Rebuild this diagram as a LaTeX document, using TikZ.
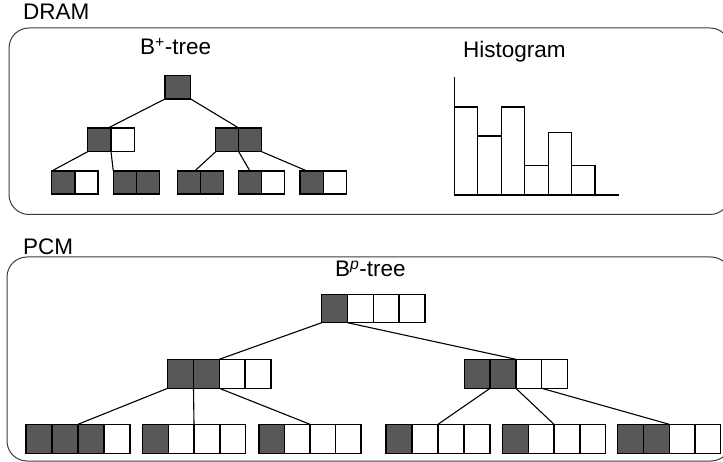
\documentclass[tikz,border=0pt]{standalone}
\usepackage{fontspec}
\setmainfont{Liberation Sans}
\usetikzlibrary{calc}

\definecolor{cellfill}{RGB}{88,88,88}
\definecolor{framegray}{RGB}{60,60,60}

% a row of adjacent cells: name, left x, top y, cell width, cell height, fills
\newcommand\cellrow[6]{%
  \foreach \f [count=\i] in {#6} {
    \node[cellbox, minimum width=#4, minimum height=#5, fill=\f, anchor=north west]
      (#1-\i) at ({#2+(\i-1)*#4},#3) {};
  }%
}

\begin{document}
\begin{tikzpicture}[x=1pt,y=-1pt,
  cellbox/.style={draw=black, line width=1.3pt, inner sep=0pt, outer sep=0pt, rectangle},
  link/.style={draw=black, line width=1.1pt},
  frame/.style={draw=framegray, line width=1pt, rounded corners=20pt},
  lbl/.style={inner sep=0pt, anchor=base west, font=\fontsize{22.5}{26}\selectfont},
  bar/.style={draw=black, line width=1.1pt}]
\useasboundingbox (0,0) rectangle (723,462);

% ---------------- DRAM ----------------
\node[lbl] (dramlbl) at (23,20) {DRAM};
\draw[frame] (9,28) rectangle (730,214.5);
\node[lbl] (bplus) at (140,55) {B\textsuperscript{+}-tree};
\node[lbl] (histlbl) at (463,58) {Histogram};

% B+-tree
\cellrow{dr}{165}{75.7}{25.7}{23.3}{cellfill}
\cellrow{dl}{87.7}{128}{23.3}{23.7}{cellfill,white}
\cellrow{dm}{215.7}{128}{23}{23.7}{cellfill,cellfill}
\cellrow{lf1}{51.7}{171}{23.2}{23}{cellfill,white}
\cellrow{lf2}{113.3}{171}{23.2}{23}{cellfill,cellfill}
\cellrow{lf3}{177.3}{171}{23.2}{23}{cellfill,cellfill}
\cellrow{lf4}{238.3}{171}{23.2}{23}{cellfill,white}
\cellrow{lf5}{300}{171}{23.2}{23}{cellfill,white}

\draw[link] (dr-1.south west) -- ($(dl-1.north)!0.75!(dl-1.north east)$);
\draw[link] (dr-1.south east) -- (dm-1.north east);
\draw[link] (dl-1.south west) -- (lf1-1.north west);
\draw[link] (dl-1.south east) -- (lf2-1.north west);
\draw[link] (dm-1.south west) -- ($(lf3-1.north)!0.5!(lf3-1.north east)$);
\draw[link] (dm-1.south east) -- (lf4-1.north);
\draw[link] (dm-2.south east) -- ($(lf5-1.north west)!0.3!(lf5-1.north east)$);

% histogram bars and axes
\foreach \h [count=\i] in {107,136,107,165.7,132.7,165.7} {
  \draw[bar] ({454.3+(\i-1)*23.45},195) rectangle ({454.3+\i*23.45},\h);
}
\draw[bar] (454.3,77) -- (454.3,195) -- (619.3,195);

% ---------------- PCM ----------------
\node[lbl] (pcmlbl) at (23,255) {PCM};
\draw[frame] (7,257) rectangle (731,461);
\node[lbl] (bp) at (335,277) {B\textsuperscript{\textit{p}}-tree};

\cellrow{pr}{321.7}{294.3}{25.8}{28.4}{cellfill,white,white,white}
\cellrow{pa}{167.7}{359.3}{25.8}{29}{cellfill,cellfill,white,white}
\cellrow{pb}{464.3}{359.3}{25.8}{29}{cellfill,cellfill,white,white}
\cellrow{p1}{26}{424.3}{26}{29.3}{cellfill,cellfill,cellfill,white}
\cellrow{p2}{142.3}{424.3}{25.85}{29.3}{cellfill,white,white,white}
\cellrow{p3}{259}{424.3}{25.5}{29.3}{cellfill,white,white,white}
\cellrow{p4}{386}{424.3}{26}{29.3}{cellfill,white,white,white}
\cellrow{p5}{502.3}{424.3}{25.85}{29.3}{cellfill,white,white,white}
\cellrow{p6}{617.7}{424.3}{25.75}{29.3}{cellfill,cellfill,white,white}

\draw[link] (pr-1.south west) -- (pa-2.north east);
\draw[link] (pr-1.south east) -- (pb-2.north east);
\draw[link] (pa-1.south west) -- (p1-2.north east);
\draw[link] (pa-1.south east) -- (p2-2.north east);
\draw[link] (pa-2.south east) -- (p3-2.north east);
\draw[link] (pb-1.south east) -- (p4-2.north east);
\draw[link] (pb-2.south east) -- (p5-2.north east);
\draw[link] (pb-3.south east) -- (p6-2.north east);
\end{tikzpicture}
\end{document}
